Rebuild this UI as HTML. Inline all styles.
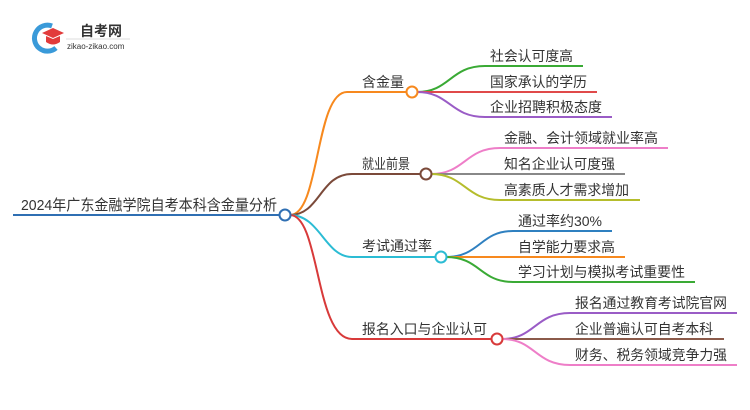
<!DOCTYPE html>
<html><head><meta charset="utf-8"><style>
html,body{margin:0;padding:0;background:#fff;width:750px;height:410px;overflow:hidden}
svg text{font-family:"Liberation Sans","Noto Sans CJK SC",sans-serif;fill:#333}
</style></head><body>
<svg width="750" height="410" viewBox="0 0 750 410" xmlns="http://www.w3.org/2000/svg">
<g>
<path d="M52 26 A13 13 0 1 0 56 48" fill="none" stroke="#3a9ad9" stroke-width="5"/>
<path d="M42 33 L53 28 L64 33 L53 38 Z" fill="#e23b3b"/>
<path d="M46 36 L46 42 Q53 47 60 42 L60 36 L53 39 Z" fill="#e23b3b"/>
<text x="80" y="36" font-size="14" font-weight="bold" fill="#333">自考网</text>
<line x1="66" y1="39" x2="130" y2="39" stroke="#ddd" stroke-width="1"/>
<text x="67" y="49" font-size="8" fill="#777">zikao-zikao.com</text>
</g>
<g fill="none" stroke-width="2">
<line x1="13" y1="215" x2="280" y2="215" stroke="#2f6fb3"/>
<path d="M290 215 C320 215 315 92 347 92 L407 92" stroke="#f7891e"/>
<path d="M290 215 C320 215 320 174 352 174 L421 174" stroke="#7b4a3a"/>
<path d="M290 215 C320 215 325 257 352 257 L435 257" stroke="#2bbcd4"/>
<path d="M290 215 C320 215 315 339 352 339 L492 339" stroke="#d83a3a"/>
<path d="M417 92 C450 92 450 66 485 66 L583 66" stroke="#3aaa35"/>
<path d="M417 92 L597 92" stroke="#e04a4a"/>
<path d="M417 92 C450 92 450 117 485 117 L612 117" stroke="#9a5cc6"/>
<path d="M431 174 C465 174 465 148 500 148 L668 148" stroke="#ee7ec8"/>
<path d="M431 174 L625 174" stroke="#888"/>
<path d="M431 174 C465 174 465 200 500 200 L640 200" stroke="#b5bd2c"/>
<path d="M446 257 C480 257 480 231 513 231 L612 231" stroke="#2f80c0"/>
<path d="M446 257 L625 257" stroke="#f7891e"/>
<path d="M446 257 C480 257 480 282 513 282 L695 282" stroke="#3aaa35"/>
<path d="M502 339 C535 339 535 313 570 313 L737 313" stroke="#9a5cc6"/>
<path d="M502 339 L724 339" stroke="#8b5a4a"/>
<path d="M502 339 C535 339 535 365 570 365 L737 365" stroke="#ee7ec8"/>
<circle cx="285" cy="215" r="5.5" fill="#fff" stroke="#2f6fb3"/>
<circle cx="412" cy="92" r="5.5" fill="#fff" stroke="#f7891e"/>
<circle cx="426" cy="174" r="5.5" fill="#fff" stroke="#7b4a3a"/>
<circle cx="441" cy="257" r="5.5" fill="#fff" stroke="#2bbcd4"/>
<circle cx="497" cy="339" r="5.5" fill="#fff" stroke="#d83a3a"/>
</g>
<g font-size="14" lengthAdjust="spacingAndGlyphs">
<text x="21" y="210" font-size="15" textLength="256" lengthAdjust="spacingAndGlyphs">2024年广东金融学院自考本科含金量分析</text>
<text x="362" y="87" textLength="42" lengthAdjust="spacingAndGlyphs">含金量</text>
<text x="362" y="169" textLength="48" lengthAdjust="spacingAndGlyphs">就业前景</text>
<text x="362" y="251" textLength="70" lengthAdjust="spacingAndGlyphs">考试通过率</text>
<text x="362" y="334" textLength="125" lengthAdjust="spacingAndGlyphs">报名入口与企业认可</text>
<text x="490" y="61" textLength="83" lengthAdjust="spacingAndGlyphs">社会认可度高</text>
<text x="490" y="87" textLength="97" lengthAdjust="spacingAndGlyphs">国家承认的学历</text>
<text x="490" y="112" textLength="112" lengthAdjust="spacingAndGlyphs">企业招聘积极态度</text>
<text x="504" y="143" textLength="154" lengthAdjust="spacingAndGlyphs">金融、会计领域就业率高</text>
<text x="504" y="169" textLength="111" lengthAdjust="spacingAndGlyphs">知名企业认可度强</text>
<text x="504" y="195" textLength="125" lengthAdjust="spacingAndGlyphs">高素质人才需求增加</text>
<text x="518" y="226" textLength="84" lengthAdjust="spacingAndGlyphs">通过率约30%</text>
<text x="518" y="252" textLength="97" lengthAdjust="spacingAndGlyphs">自学能力要求高</text>
<text x="518" y="277" textLength="167" lengthAdjust="spacingAndGlyphs">学习计划与模拟考试重要性</text>
<text x="575" y="308" textLength="152" lengthAdjust="spacingAndGlyphs">报名通过教育考试院官网</text>
<text x="575" y="334" textLength="138" lengthAdjust="spacingAndGlyphs">企业普遍认可自考本科</text>
<text x="575" y="360" textLength="152" lengthAdjust="spacingAndGlyphs">财务、税务领域竞争力强</text>
</g>
</svg>
</body></html>
